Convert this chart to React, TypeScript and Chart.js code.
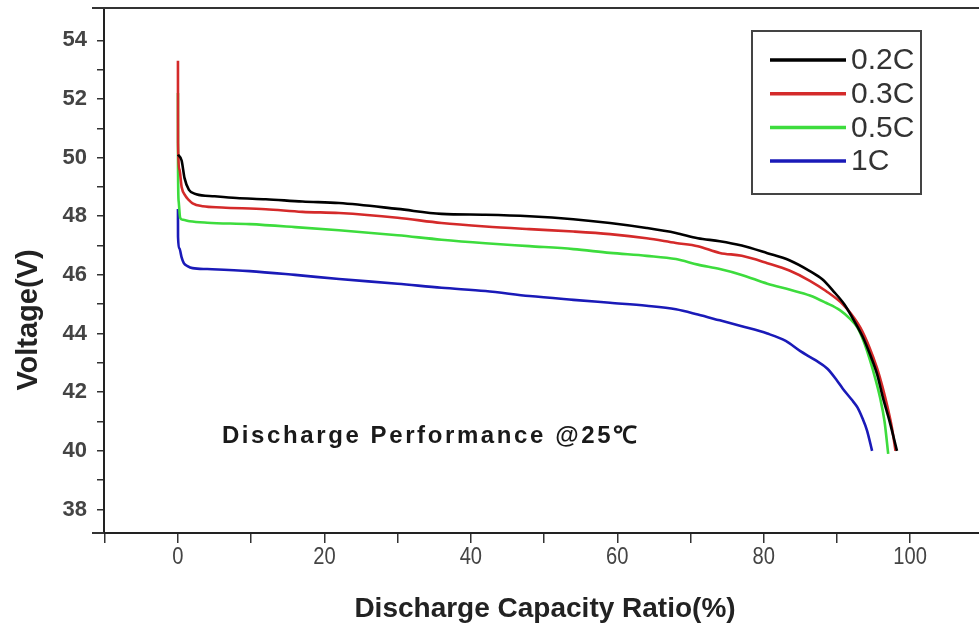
import React, { useEffect, useRef } from "react";
import { Chart, registerables } from "chart.js";

Chart.register(...registerables);

const seriesLabels = ["0.2C", "0.3C", "0.5C", "1C"];
const seriesColors = ["#000000", "#d42a2a", "#3ddc3d", "#1a1ab8"];

const capacity02 = [0, 0.5, 0.9, 1.5, 2.5, 5, 8, 12, 17, 22, 30, 36, 42, 48, 54, 59, 64, 68, 71, 74, 77, 80.5, 83.5, 86.3, 88, 89.5, 91, 92.2, 93.5, 94.5, 95.5, 96.3, 97.2, 98.2];
const voltage02 = [50.1, 49.9, 49.3, 48.9, 48.75, 48.68, 48.62, 48.58, 48.5, 48.45, 48.25, 48.08, 48.05, 48.0, 47.9, 47.77, 47.6, 47.43, 47.25, 47.15, 47.0, 46.74, 46.5, 46.13, 45.85, 45.45, 45.0, 44.5, 43.9, 43.3, 42.6, 41.8, 41.0, 40.0];

const capacity03 = [0, 0.01, 0.2, 0.5, 1, 1.5, 2, 3.4, 6, 12, 17, 22, 30, 36, 42, 48, 54, 59, 64, 68, 71, 74, 77, 80.5, 83.5, 86.3, 88.5, 90.8, 92, 93.2, 94.4, 95.5, 96.2, 96.9, 97.5, 98];
const voltage03 = [53.3, 50.5, 49.6, 49.0, 48.7, 48.55, 48.44, 48.34, 48.3, 48.24, 48.15, 48.11, 47.95, 47.77, 47.65, 47.56, 47.48, 47.39, 47.25, 47.09, 46.98, 46.75, 46.65, 46.4, 46.15, 45.8, 45.45, 45.0, 44.65, 44.2, 43.55, 42.8, 42.2, 41.5, 40.8, 40.0];

const capacity05 = [0, 0.01, 0.1, 0.3, 0.7, 1.6, 4, 9.8, 16, 22, 30, 36, 42, 48, 54, 59, 64, 68, 71, 74, 77, 80.5, 83.5, 86.3, 88.5, 90.4, 91.8, 92.8, 93.7, 94.5, 95.2, 95.9, 96.5, 97];
const voltage05 = [52.2, 49.6, 48.5, 47.95, 47.88, 47.83, 47.78, 47.73, 47.63, 47.52, 47.35, 47.2, 47.08, 46.98, 46.88, 46.75, 46.65, 46.54, 46.35, 46.2, 46.0, 45.7, 45.5, 45.3, 45.05, 44.8, 44.5, 44.2, 43.7, 43.1, 42.5, 41.8, 41.0, 39.9];

const capacity1 = [0, 0.01, 0.2, 0.5, 0.8, 1.3, 2, 4, 9.8, 16, 22, 30, 36, 42, 48, 54, 59, 64, 68, 71, 74, 77, 80.5, 83, 85, 87, 88.7, 90, 90.8, 92, 92.8, 93.5, 94.1, 94.8];
const voltage1 = [48.25, 47.3, 46.9, 46.6, 46.4, 46.3, 46.23, 46.2, 46.13, 46.0, 45.86, 45.7, 45.56, 45.45, 45.28, 45.15, 45.05, 44.95, 44.83, 44.65, 44.45, 44.25, 44.0, 43.75, 43.4, 43.1, 42.8, 42.4, 42.12, 41.75, 41.48, 41.1, 40.7, 40.0];

const yTickValues = [38, 39, 40, 41, 42, 43, 44, 45, 46, 47, 48, 49, 50, 51, 52, 53, 54];
const xTickValues = [-10, 0, 10, 20, 30, 40, 50, 60, 70, 80, 90, 100];
const xLabelValues = [0, 20, 40, 60, 80, 100];
const yLabelValues = [38, 40, 42, 44, 46, 48, 50, 52, 54];

const xMin = -10.1;
const xMax = 109.4;
const yMin = 37.2;
const yMax = 55.1;

const xTitle = "Discharge Capacity Ratio(%)";
const yTitle = "Voltage(V)";
const noteText = "Discharge Performance @25℃";
const noteCapacity = 6;
const noteVoltage = 40.5;

const SANS = '"Liberation Sans", Arial, sans-serif';

function pts(xs: number[], ys: number[]) {
  return xs.map((x, i) => ({ x, y: ys[i] }));
}

const decorPlugin = {
  id: "decor",
  afterDraw(chart: any) {
    const ctx = chart.ctx as CanvasRenderingContext2D;
    const area = chart.chartArea;
    const xs = chart.scales.x;
    const ys = chart.scales.y;
    ctx.save();
    // top frame line and left extension of x axis
    ctx.strokeStyle = "#333";
    ctx.lineWidth = 2;
    ctx.beginPath();
    ctx.moveTo(92, area.top);
    ctx.lineTo(chart.width, area.top);
    ctx.moveTo(92, area.bottom);
    ctx.lineTo(area.left, area.bottom);
    ctx.stroke();

    // x tick labels (condensed)
    ctx.fillStyle = "#444";
    ctx.font = `24px ${SANS}`;
    ctx.textAlign = "center";
    ctx.textBaseline = "middle";
    xLabelValues.forEach((v) => {
      const px = xs.getPixelForValue(v);
      ctx.save();
      ctx.translate(px, area.bottom + 24);
      ctx.scale(0.84, 1.02);
      ctx.fillText(String(v), 0, 0);
      ctx.restore();
    });

    // axis titles
    ctx.fillStyle = "#222";
    ctx.font = `bold 28px ${SANS}`;
    ctx.fillText(xTitle, 545, 609);
    ctx.save();
    ctx.translate(29, 320);
    ctx.rotate(-Math.PI / 2);
    ctx.font = `bold 29px ${SANS}`;
    ctx.fillText(yTitle, 0, 0);
    ctx.restore();

    // annotation
    ctx.font = `bold 24px ${SANS}`;
    (ctx as any).letterSpacing = "2.6px";
    ctx.textAlign = "left";
    ctx.fillStyle = "#1a1a1a";
    ctx.fillText(noteText, xs.getPixelForValue(noteCapacity), ys.getPixelForValue(noteVoltage));
    (ctx as any).letterSpacing = "0px";

    // legend
    const bx = 752, by = 31, bw = 169, bh = 163;
    ctx.fillStyle = "#fff";
    ctx.fillRect(bx, by, bw, bh);
    ctx.strokeStyle = "#444";
    ctx.lineWidth = 2;
    ctx.strokeRect(bx, by, bw, bh);
    ctx.font = `30px ${SANS}`;
    ctx.textBaseline = "middle";
    chart.data.datasets.forEach((ds: any, i: number) => {
      const yy = 60 + i * 33.7;
      ctx.strokeStyle = ds.borderColor;
      ctx.lineWidth = 3.5;
      ctx.beginPath();
      ctx.moveTo(770, yy);
      ctx.lineTo(846, yy);
      ctx.stroke();
      ctx.fillStyle = "#333";
      ctx.fillText(ds.label, 851, yy + 1);
    });
    ctx.restore();
  },
};

export default function App() {
  const ref = useRef<HTMLCanvasElement | null>(null);
  useEffect(() => {
    if (!ref.current) return;
    const datasets = [
      pts(capacity02, voltage02),
      pts(capacity03, voltage03),
      pts(capacity05, voltage05),
      pts(capacity1, voltage1),
    ].map((data, i) => ({
      label: seriesLabels[i],
      data,
      borderColor: seriesColors[i],
      backgroundColor: seriesColors[i],
      borderWidth: 2.6,
      pointRadius: 0,
      cubicInterpolationMode: "monotone",
      fill: false,
    }));
    const chart = new Chart(ref.current, {
      type: "line",
      data: { datasets },
      options: {
        animation: false,
        responsive: false,
        devicePixelRatio: 1,
        layout: { padding: { top: 8, left: 0, right: 0, bottom: 0 } },
        plugins: { legend: { display: false }, tooltip: { enabled: false } },
        scales: {
          x: {
            type: "linear",
            min: xMin,
            max: xMax,
            afterFit: (s: any) => { s.height = 101; s.paddingLeft = 0; s.paddingRight = 0; },
            afterBuildTicks: (s: any) => { s.ticks = xTickValues.map((v) => ({ value: v })); },
            border: { display: true, color: "#222", width: 2 },
            grid: { drawOnChartArea: false, drawTicks: true, tickLength: 10, color: "#333", lineWidth: 1.5 },
            ticks: { display: false, autoSkip: false, maxRotation: 0 },
          },
          y: {
            type: "linear",
            min: yMin,
            max: yMax,
            afterFit: (s: any) => { s.width = 104; s.paddingTop = 0; s.paddingBottom = 0; },
            afterBuildTicks: (s: any) => { s.ticks = yTickValues.map((v) => ({ value: v })); },
            border: { display: true, color: "#222", width: 2 },
            grid: { drawOnChartArea: false, drawTicks: true, tickLength: 7, color: "#333", lineWidth: 1.5 },
            ticks: {
              autoSkip: false,
              padding: 10,
              color: "#444",
              font: { family: SANS, size: 22, weight: "bold" },
              callback: (v: any) => (yLabelValues.includes(Number(v)) ? String(v) : ""),
            },
          },
        },
      },
      plugins: [decorPlugin],
    } as any);
    return () => chart.destroy();
  }, []);
  return (
    <div style={{ position: "fixed", left: 0, top: 0, width: 979, height: 634, background: "#fff" }}>
      <canvas ref={ref} width={979} height={634} style={{ width: 979, height: 634, display: "block" }} />
    </div>
  );
}
